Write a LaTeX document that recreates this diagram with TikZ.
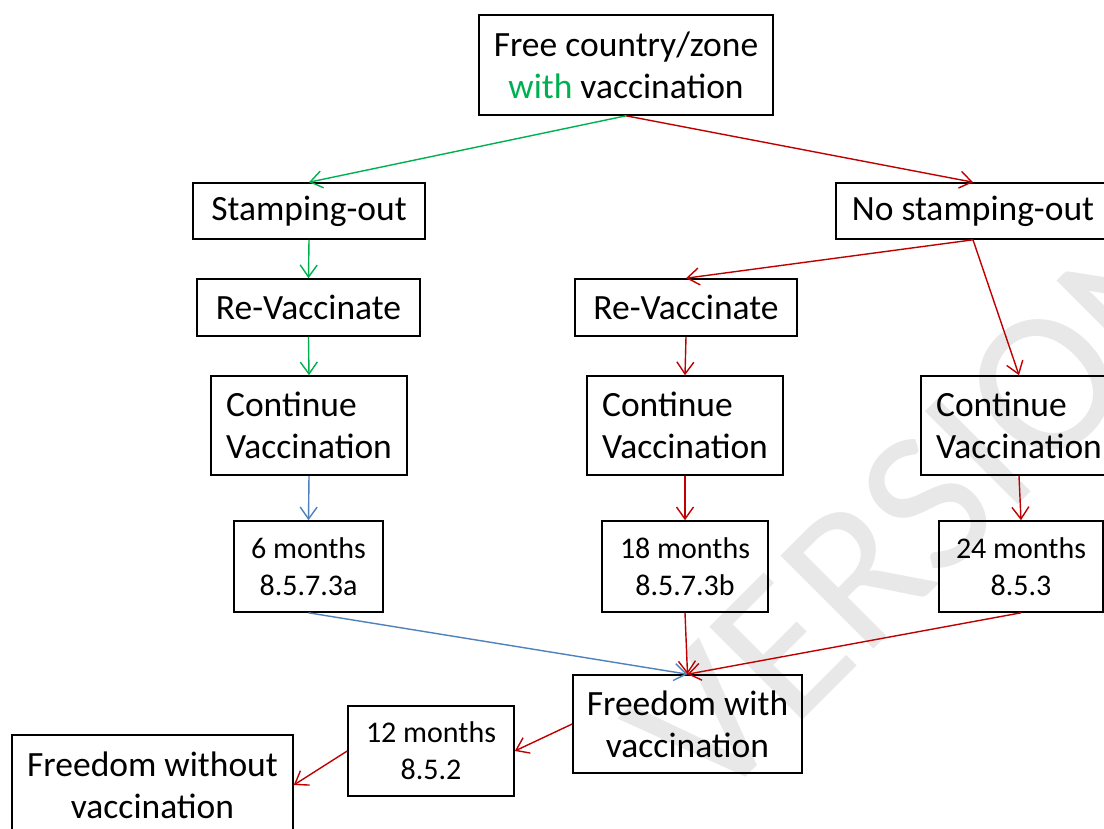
\documentclass[tikz,border=0pt]{standalone}
\usepackage{fontspec}
\setmainfont{Carlito}
\usetikzlibrary{arrows.meta}
\definecolor{cgreen}{HTML}{00B050}
\definecolor{cred}{HTML}{C00000}
\definecolor{cblue}{HTML}{4F81BD}
\definecolor{wm}{HTML}{E8E8E8}
\begin{document}
\begin{tikzpicture}[x=1pt,y=-1pt,
  box/.style={draw=black, line width=1.6pt, inner sep=0pt, align=center},
  big/.style={font=\fontsize{35.5}{42}\selectfont},
  small/.style={font=\fontsize{30}{37}\selectfont},
  conn/.style={line width=1.4pt, -{Straight Barb[length=12pt,width=17pt,line width=1.4pt]}},
  g/.style={conn, draw=cgreen},
  r/.style={conn, draw=cred},
  b/.style={conn, draw=cblue}]
\useasboundingbox (0,0) rectangle (1104,828);
\clip (0,0) rectangle (1104,828);
\fill[white] (0,0) rectangle (1104,828);
% watermark
\node[rotate=45, text=wm, font=\fontsize{205}{205}\selectfont, inner sep=0pt] (wmark) at (925,505) {VERSION};
% nodes
\node[box, big, minimum width=294pt, minimum height=100pt] (top) at (626,65)
  {Free country/zone\\\textcolor{cgreen}{with} vaccination};
\node[box, big, minimum width=232pt, minimum height=56pt] (stamp) at (309,211) {Stamping-out};
\node[box, big, minimum width=274pt, minimum height=56pt] (nostamp) at (973,211) {No stamping-out};
\node[box, big, minimum width=223pt, minimum height=57pt] (revL) at (308.5,307.5) {Re-Vaccinate};
\node[box, big, minimum width=222pt, minimum height=57pt] (revM) at (686,307.5) {Re-Vaccinate};
\node[box, big, align=left, minimum width=196pt, minimum height=99pt] (contL) at (309,425.5) {Continue\\Vaccination};
\node[box, big, align=left, minimum width=196pt, minimum height=99pt] (contM) at (685,425.5) {Continue\\Vaccination};
\node[box, big, align=left, minimum width=196pt, minimum height=99pt] (contR) at (1019,425.5) {Continue\\Vaccination};
\node[box, small, minimum width=149pt, minimum height=91pt] (m6) at (308.5,566.5) {6 months\\8.5.7.3a};
\node[box, small, minimum width=166pt, minimum height=91pt] (m18) at (685,566.5) {18 months\\8.5.7.3b};
\node[box, small, minimum width=164pt, minimum height=91pt] (m24) at (1021,566.5) {24 months\\8.5.3};
\node[box, big, minimum width=229pt, minimum height=98pt] (fwith) at (687.5,724) {Freedom with\\vaccination};
\node[box, small, minimum width=166pt, minimum height=90pt] (m12) at (431,751) {12 months\\8.5.2};
\node[box, big, minimum width=281pt, minimum height=100pt] (fwo) at (152.5,785) {Freedom without\\vaccination};
% connectors
\draw[g] (top.south) -- (stamp.north);
\draw[r] (top.south) -- (nostamp.north);
\draw[g] (stamp.south) -- (revL.north);
\draw[g] (revL.south) -- (contL.north);
\draw[b] (contL.south) -- (m6.north);
\draw[b] (m6.south) -- (fwith.north);
\draw[r] (nostamp.south) -- (revM.north);
\draw[r] (nostamp.south) -- (contR.north);
\draw[r] (revM.south) -- (contM.north);
\draw[r] (contM.south) -- (m18.north);
\draw[r] (m18.south) -- (fwith.north);
\draw[r] (contR.south) -- (m24.north);
\draw[r] (m24.south) -- (fwith.north);
\draw[r] (fwith.west) -- (m12.east);
\draw[r] (m12.west) -- (fwo.east);
\end{tikzpicture}
\end{document}
